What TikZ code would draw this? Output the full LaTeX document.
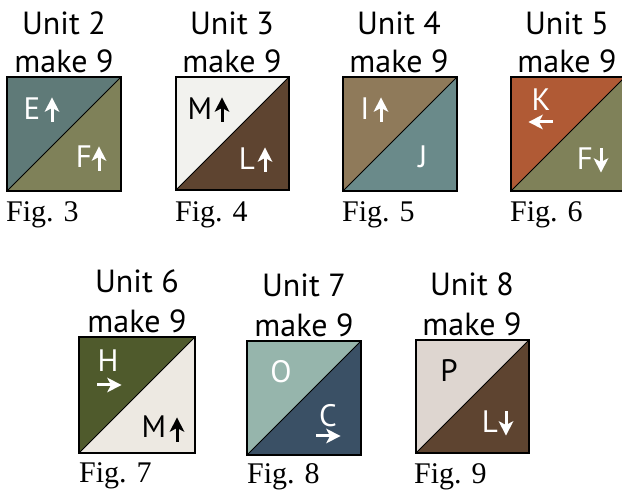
\documentclass[tikz,border=0pt]{standalone}
\usepackage{fontspec}
\setmainfont{Liberation Serif}
\newfontfamily\unitfont{PT Sans}
\definecolor{slate}{HTML}{5F7A78}
\definecolor{olive}{HTML}{7F8159}
\definecolor{offwhite}{HTML}{F2F2EE}
\definecolor{dbrown}{HTML}{5E4430}
\definecolor{tan}{HTML}{8F7A5A}
\definecolor{teal}{HTML}{6A8A8A}
\definecolor{rust}{HTML}{B05A35}
\definecolor{dgreen}{HTML}{4F5A2C}
\definecolor{cream}{HTML}{EDE9E2}
\definecolor{sage}{HTML}{96B5AC}
\definecolor{navy}{HTML}{3A5065}
\definecolor{taupe}{HTML}{DED6D0}
\newcommand\hstsq[6]{%
  \fill[#5] (#2,#3) -- ({#2+#4},#3) -- (#2,{#3+#4}) -- cycle;
  \fill[#6] ({#2+#4},#3) -- ({#2+#4},{#3+#4}) -- (#2,{#3+#4}) -- cycle;
  \draw[line width=1pt] (#2,{#3+#4}) -- ({#2+#4},#3);
  \draw[line width=1.6pt] (#2,#3) rectangle ({#2+#4},{#3+#4});
  \coordinate (#1) at ({#2+#4/2},{#3+#4/2});
}
\tikzset{
  quiltarrow/.pic={
    \fill (0,-12.5) -- (7.5,2) -- (0,-2) -- (-7.5,2) -- cycle;
    \fill (-1.5,-5) rectangle (1.5,12);
  }
}
\begin{document}
\begin{tikzpicture}[x=1pt,y=-1pt,
  unit/.style={font=\unitfont\fontsize{32}{32}\selectfont, anchor=base, inner sep=0pt},
  fig/.style={font=\fontsize{30}{30}\selectfont, anchor=base west, inner sep=0pt},
  lbl/.style={font=\unitfont\fontsize{31}{31}\selectfont, anchor=base, inner sep=0pt}]
\useasboundingbox (0,0) rectangle (622,494);
\clip (0,0) rectangle (622,494);
% row 1
\hstsq{s3}{7}{77}{114}{slate}{olive}
\hstsq{s4}{176}{77}{113}{offwhite}{dbrown}
\hstsq{s5}{343}{77}{114}{tan}{teal}
\hstsq{s6}{511}{77}{114}{rust}{olive}
% row 2
\hstsq{s7}{79}{337}{116}{dgreen}{cream}
\hstsq{s8}{247}{341}{114}{sage}{navy}
\hstsq{s9}{416}{340}{113}{taupe}{dbrown}
% titles
\node[unit] (u2a) at (64,35) {Unit 2};
\node[unit] (u2b) at (64,73) {make 9};
\node[unit] (u3a) at (232,35) {Unit 3};
\node[unit] (u3b) at (232,73) {make 9};
\node[unit] (u4a) at (399,35) {Unit 4};
\node[unit] (u4b) at (399,73) {make 9};
\node[unit] (u5a) at (567,35) {Unit 5};
\node[unit] (u5b) at (567,73) {make 9};
\node[unit] (u6a) at (137,293) {Unit 6};
\node[unit] (u6b) at (137,333) {make 9};
\node[unit] (u7a) at (304,297) {Unit 7};
\node[unit] (u7b) at (304,337) {make 9};
\node[unit] (u8a) at (472,296) {Unit 8};
\node[unit] (u8b) at (472,336) {make 9};
% figure captions
\node[fig] (f3) at (6,222) {Fig. 3};
\node[fig] (f4) at (175,222) {Fig. 4};
\node[fig] (f5) at (342,222) {Fig. 5};
\node[fig] (f6) at (510,222) {Fig. 6};
\node[fig] (f7) at (79,483) {Fig. 7};
\node[fig] (f8) at (247,484) {Fig. 8};
\node[fig] (f9) at (414,484) {Fig. 9};
% letters and arrows
\node[lbl,text=white] (e3) at (32,120) {E};
\pic[white] at (52,110) {quiltarrow};
\node[lbl,text=white] (ff3) at (84,168) {F};
\pic[white] at (99,159) {quiltarrow};
\node[lbl,text=black] (m4) at (200,120) {M};
\pic[black] at (222,110) {quiltarrow};
\node[lbl,text=white] (l4) at (247,170) {L};
\pic[white] at (265,160) {quiltarrow};
\node[lbl,text=white] (i5) at (365,120) {I};
\pic[white] at (381,110) {quiltarrow};
\node[lbl,text=white] (j5) at (423,168) {J};
\node[lbl,text=white] (k6) at (541,111) {K};
\pic[white,rotate=90] at (541,122) {quiltarrow};
\node[lbl,text=white] (ff6) at (585,170) {F};
\pic[white,rotate=180] at (601,160) {quiltarrow};
\node[lbl,text=white] (h7) at (108,372) {H};
\pic[white,rotate=-90] at (109,385) {quiltarrow};
\node[lbl,text=black] (m7) at (154,438) {M};
\pic[black] at (177,430) {quiltarrow};
\node[lbl,text=white] (o8) at (281,383) {O};
\node[lbl,text=white] (c8) at (328,427) {C};
\pic[white,rotate=-90] at (328,436) {quiltarrow};
\node[lbl,text=black] (p9) at (449,382) {P};
\node[lbl,text=white] (l9) at (490,433) {L};
\pic[white,rotate=180] at (506,423) {quiltarrow};
\end{tikzpicture}
\end{document}
